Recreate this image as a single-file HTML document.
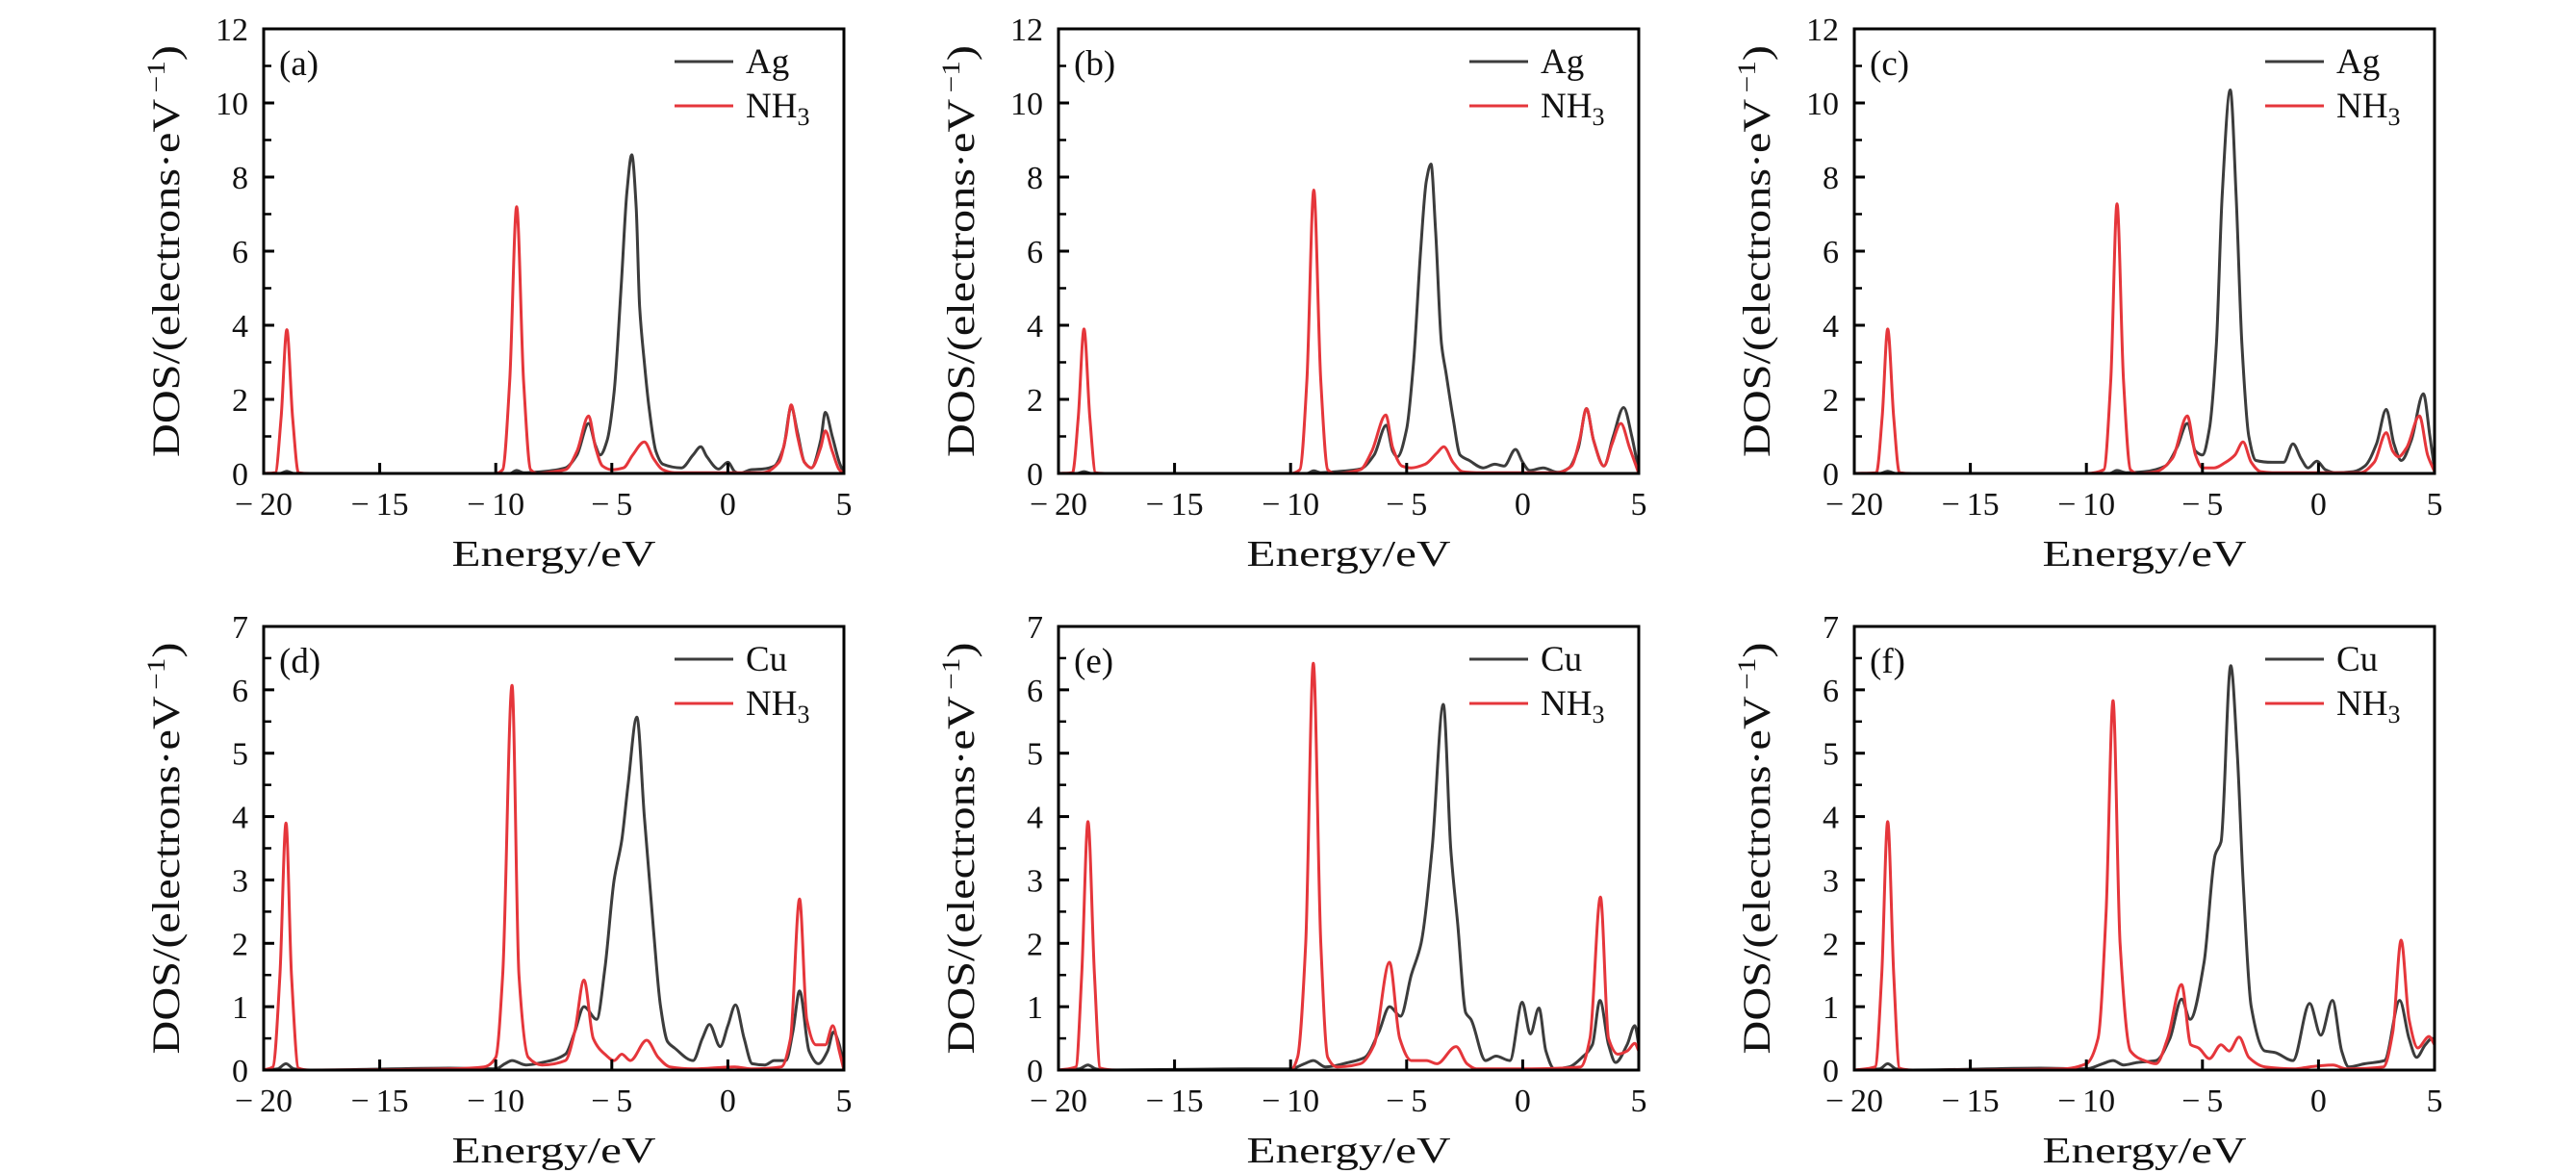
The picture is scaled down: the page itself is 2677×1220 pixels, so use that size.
<!DOCTYPE html>
<html><head><meta charset="utf-8"><style>
html,body{margin:0;padding:0;background:#fff}
svg{display:block}
text{font-family:"Liberation Serif",serif;fill:#111}
</style></head><body>
<svg id="fig" width="2677" height="1220" viewBox="0 0 2677 1220" xmlns="http://www.w3.org/2000/svg"></svg>
<script>
// ---- data: [energy, DOS] pairs ----
const panelLabels = ["(a)","(b)","(c)","(d)","(e)","(f)"];
const metalNames = ["Ag","Ag","Ag","Cu","Cu","Cu"];
const yMaxes = [12,12,12,7,7,7];
const yTicksTop = [0,2,4,6,8,10,12];
const yTicksBottom = [0,1,2,3,4,5,6,7];
const xTicks = [-20,-15,-10,-5,0,5];

const metalA = [[-20,0],[-19.3,0],[-19,0.06],[-18.7,0],[-10,0],[-9.4,0],[-9.1,0.08],[-8.8,0.02],[-8,0.05],[-7,0.15],[-6.5,0.5],[-6.0,1.35],[-5.7,0.75],[-5.5,0.5],[-5.2,0.9],[-4.9,2.2],[-4.6,5],[-4.35,7.6],[-4.14,8.6],[-3.95,7.2],[-3.8,4.5],[-3.6,3.0],[-3.4,1.8],[-3.1,0.6],[-2.8,0.25],[-2.0,0.15],[-1.5,0.5],[-1.17,0.72],[-0.9,0.45],[-0.4,0.12],[0,0.3],[0.3,0.05],[0.5,0],[1,0.1],[1.5,0.12],[2,0.2],[2.4,0.7],[2.73,1.8],[3.0,1.1],[3.3,0.3],[3.6,0.15],[4.0,0.9],[4.2,1.65],[4.5,1.0],[4.8,0.3],[5,0]];
const nh3A = [[-20,0],[-19.5,0.02],[-19.25,1.5],[-19.0,3.88],[-18.75,1.5],[-18.5,0.02],[-18,0],[-10,0],[-9.7,0.1],[-9.4,2.5],[-9.1,7.2],[-8.8,2.5],[-8.5,0.1],[-8.2,0],[-7.5,0.05],[-7,0.1],[-6.5,0.6],[-6.0,1.55],[-5.7,0.7],[-5.4,0.2],[-5,0.1],[-4.5,0.15],[-4.1,0.5],[-3.6,0.85],[-3.2,0.4],[-2.8,0.1],[-2.3,0.02],[1.5,0.02],[2.2,0.3],[2.5,1.0],[2.73,1.85],[3.0,1.0],[3.3,0.3],[3.6,0.15],[4.0,0.7],[4.2,1.15],[4.5,0.6],[4.8,0.1],[5,0]];

const metalB = [[-20,0],[-19.2,0],[-18.9,0.05],[-18.6,0],[-10,0],[-9.3,0],[-9.0,0.07],[-8.7,0.02],[-8,0.05],[-7,0.12],[-6.4,0.5],[-5.88,1.3],[-5.6,0.6],[-5.4,0.45],[-5.0,1.2],[-4.7,3.0],[-4.4,6.0],[-4.15,7.9],[-3.95,8.35],[-3.75,6.5],[-3.5,3.5],[-3.3,2.7],[-3.0,1.5],[-2.7,0.5],[-2.3,0.35],[-1.7,0.15],[-1.2,0.25],[-0.8,0.2],[-0.31,0.65],[0,0.3],[0.3,0.08],[0.88,0.15],[1.5,0.03],[2,0.15],[2.4,0.7],[2.75,1.75],[3.05,0.9],[3.5,0.2],[3.9,1.0],[4.35,1.78],[4.7,1.0],[5,0.05]];
const nh3B = [[-20,0],[-19.4,0.02],[-19.15,1.5],[-18.9,3.9],[-18.65,1.5],[-18.4,0.02],[-18,0],[-10,0],[-9.6,0.1],[-9.3,2.5],[-9.0,7.65],[-8.7,2.5],[-8.4,0.1],[-8.1,0],[-7,0.1],[-6.5,0.6],[-5.9,1.58],[-5.6,0.7],[-5.2,0.2],[-4.8,0.15],[-4.2,0.25],[-3.7,0.55],[-3.4,0.72],[-3.0,0.3],[-2.6,0.05],[-2,0.02],[1.5,0.02],[2.1,0.2],[2.45,0.9],[2.75,1.75],[3.05,0.9],[3.5,0.2],[3.85,0.8],[4.23,1.35],[4.6,0.7],[5,0]];

const metalC = [[-20,0],[-18.9,0],[-18.56,0.06],[-18.2,0],[-10,0],[-9.0,0],[-8.68,0.08],[-8.3,0.02],[-7.5,0.05],[-6.6,0.2],[-6.1,0.7],[-5.65,1.35],[-5.3,0.6],[-5.0,0.5],[-4.7,1.2],[-4.4,3.5],[-4.15,7.5],[-3.8,10.35],[-3.55,7.5],[-3.3,3.5],[-3.0,1.0],[-2.7,0.35],[-2.0,0.3],[-1.5,0.3],[-1.1,0.8],[-0.75,0.4],[-0.45,0.15],[-0.07,0.33],[0.3,0.1],[0.7,0.02],[1.5,0.05],[2.0,0.2],[2.5,0.8],[2.92,1.73],[3.25,0.8],[3.57,0.35],[4.0,0.9],[4.52,2.15],[4.8,1.0],[5,0.1]];
const nh3C = [[-20,0],[-19.05,0.02],[-18.8,1.5],[-18.56,3.9],[-18.3,1.5],[-18.05,0.02],[-17.5,0],[-10,0],[-9.25,0.1],[-8.95,2.5],[-8.68,7.28],[-8.4,2.5],[-8.1,0.1],[-7.8,0],[-7,0.05],[-6.3,0.4],[-5.65,1.55],[-5.3,0.5],[-5.0,0.15],[-4.5,0.15],[-4.0,0.3],[-3.6,0.5],[-3.25,0.85],[-2.9,0.3],[-2.5,0.05],[-2,0.02],[1.8,0.02],[2.4,0.3],[2.92,1.1],[3.2,0.6],[3.45,0.45],[3.8,0.7],[4.35,1.55],[4.7,0.5],[5,0.05]];

const metalD = [[-20,0],[-19.4,0.02],[-19.04,0.1],[-18.7,0.02],[-18,0],[-12,0.03],[-10,0.02],[-9.6,0.1],[-9.3,0.15],[-8.7,0.08],[-8,0.12],[-7,0.25],[-6.6,0.6],[-6.2,1.0],[-5.65,0.8],[-5.3,1.6],[-4.9,3.0],[-4.57,3.63],[-4.3,4.5],[-3.92,5.57],[-3.6,4.0],[-3.2,2.2],[-2.9,1.0],[-2.6,0.45],[-2.3,0.35],[-1.5,0.15],[-1.1,0.5],[-0.79,0.72],[-0.33,0.37],[0.0,0.7],[0.33,1.03],[0.7,0.5],[1.05,0.1],[1.6,0.08],[2.0,0.15],[2.5,0.15],[2.8,0.6],[3.09,1.25],[3.5,0.3],[3.9,0.1],[4.3,0.3],[4.55,0.6],[4.8,0.4],[5,0]];
const nh3D = [[-20,0],[-19.6,0.05],[-19.3,1.5],[-19.04,3.9],[-18.8,1.5],[-18.5,0.03],[-18,0],[-12,0.02],[-10.5,0.05],[-10,0.2],[-9.7,1.5],[-9.3,6.07],[-9.0,1.5],[-8.6,0.2],[-8,0.08],[-7,0.15],[-6.6,0.6],[-6.2,1.42],[-5.8,0.5],[-5.3,0.25],[-4.9,0.15],[-4.57,0.25],[-4.2,0.15],[-3.5,0.47],[-3.0,0.2],[-2.5,0.05],[-1.5,0.02],[0.3,0.05],[1,0.02],[2.3,0.05],[2.7,0.5],[3.09,2.7],[3.4,0.8],[3.8,0.4],[4.2,0.4],[4.52,0.7],[4.8,0.3],[5,0]];

const metalE = [[-20,0],[-19.1,0.02],[-18.73,0.08],[-18.4,0.02],[-18,0],[-12,0.02],[-10,0.02],[-9.4,0.1],[-9.02,0.15],[-8.5,0.05],[-7.5,0.12],[-6.8,0.2],[-6.2,0.6],[-5.74,1.0],[-5.26,0.85],[-4.8,1.5],[-4.38,2.0],[-3.9,3.5],[-3.42,5.77],[-3.1,3.5],[-2.8,2.3],[-2.45,0.9],[-2.23,0.8],[-1.6,0.15],[-1.15,0.22],[-0.55,0.15],[-0.02,1.07],[0.33,0.57],[0.7,0.98],[1.0,0.3],[1.36,0.02],[2.0,0.05],[2.56,0.2],[3.0,0.4],[3.33,1.1],[3.7,0.4],[4.0,0.12],[4.5,0.4],[4.83,0.7],[5,0.4]];
const nh3E = [[-20,0],[-19.25,0.05],[-19.0,1.5],[-18.73,3.92],[-18.45,1.5],[-18.2,0.03],[-17.5,0],[-10,0],[-9.7,0.2],[-9.35,2.0],[-9.02,6.42],[-8.7,2.0],[-8.4,0.2],[-8,0.05],[-7,0.1],[-6.4,0.4],[-5.74,1.7],[-5.3,0.5],[-4.8,0.15],[-4.14,0.15],[-3.7,0.1],[-2.87,0.37],[-2.4,0.1],[-2.0,0.02],[0,0.02],[2.5,0.05],[2.9,0.5],[3.35,2.73],[3.7,0.5],[4.1,0.25],[4.5,0.3],[4.83,0.42],[5,0.3]];

const metalF = [[-20,0],[-18.9,0.02],[-18.56,0.1],[-18.2,0.02],[-17.5,0],[-12,0.03],[-10,0.02],[-9.3,0.1],[-8.85,0.15],[-8.4,0.08],[-7.8,0.12],[-7,0.15],[-6.4,0.5],[-5.9,1.12],[-5.53,0.8],[-4.93,1.7],[-4.45,3.4],[-4.2,3.6],[-3.78,6.38],[-3.5,5.0],[-3.25,3.0],[-2.9,1.0],[-2.3,0.3],[-1.9,0.28],[-1.1,0.15],[-0.38,1.05],[0.1,0.55],[0.6,1.1],[1.0,0.3],[1.3,0.05],[2.0,0.1],[2.85,0.15],[3.5,1.1],[3.9,0.5],[4.23,0.2],[4.6,0.4],[4.9,0.5],[5,0.4]];
const nh3F = [[-20,0],[-19.1,0.05],[-18.82,1.5],[-18.56,3.92],[-18.3,1.5],[-18.05,0.03],[-17.5,0],[-11,0.02],[-10,0.1],[-9.5,0.5],[-9.15,2.5],[-8.85,5.83],[-8.55,2.0],[-8.1,0.3],[-7.5,0.15],[-7.0,0.1],[-6.5,0.5],[-5.9,1.35],[-5.5,0.4],[-5.17,0.35],[-4.7,0.18],[-4.2,0.4],[-3.85,0.3],[-3.42,0.52],[-3.0,0.2],[-2.3,0.05],[-1.0,0.02],[-0.38,0.05],[0.62,0.08],[1.2,0.02],[2.8,0.05],[3.2,0.6],[3.56,2.05],[3.9,0.8],[4.28,0.35],[4.76,0.53],[5,0.4]];

const metalSeries = [metalA,metalB,metalC,metalD,metalE,metalF];
const nh3Series = [nh3A,nh3B,nh3C,nh3D,nh3E,nh3F];

// ---- layout ----
const NS = "http://www.w3.org/2000/svg";
const svg = document.getElementById("fig");
const lefts = [274,1100,1927];
const tops = [[30,492],[651,1112]];
const W = 603;
const BLACK = "#3c3c3c", RED = "#e5363b";

function mk(tag, attrs, parent){
  const e = document.createElementNS(NS, tag);
  for (const k in attrs) e.setAttribute(k, attrs[k]);
  (parent||svg).appendChild(e);
  return e;
}
function monoPath(pts, sx, sy){
  const n = pts.length, xs = pts.map(p=>sx(p[0])), ys = pts.map(p=>sy(p[1]));
  const d = [], m = new Array(n);
  for (let i=0;i<n-1;i++) d.push((ys[i+1]-ys[i])/(xs[i+1]-xs[i]));
  m[0]=d[0]; m[n-1]=d[n-2];
  for (let i=1;i<n-1;i++){
    if (d[i-1]*d[i]<=0) m[i]=0;
    else { const h0=xs[i]-xs[i-1], h1=xs[i+1]-xs[i];
      m[i]=3*(h0+h1)/((2*h1+h0)/d[i-1]+(h1+2*h0)/d[i]); }
  }
  let s = "M"+xs[0].toFixed(1)+","+ys[0].toFixed(1);
  for (let i=0;i<n-1;i++){
    const h=(xs[i+1]-xs[i])/3;
    s += "C"+(xs[i]+h).toFixed(1)+","+(ys[i]+m[i]*h).toFixed(1)+" "+(xs[i+1]-h).toFixed(1)+","+(ys[i+1]-m[i+1]*h).toFixed(1)+" "+xs[i+1].toFixed(1)+","+ys[i+1].toFixed(1);
  }
  return s;
}

for (let p=0;p<6;p++){
  const L = lefts[p%3], T = tops[Math.floor(p/3)][0], B = tops[Math.floor(p/3)][1];
  const yMax = yMaxes[p];
  const sx = v => L + (v+20)/25*W;
  const sy = v => B - v/yMax*(B-T);
  const g = mk("g", {});
  
  

  const clipId = "clip"+p;
  const cp = mk("clipPath", {id:clipId}, g);
  mk("rect", {x:L, y:T, width:W, height:B-T}, cp);

  const cg = mk("g", {"clip-path":"url(#"+clipId+")"}, g);
  const ml = mk("path", {d:monoPath(metalSeries[p],sx,sy), fill:"none", stroke:BLACK, "stroke-width":3, "stroke-linejoin":"round"}, cg);
  
  
  const rl = mk("path", {d:monoPath(nh3Series[p],sx,sy), fill:"none", stroke:RED, "stroke-width":3, "stroke-linejoin":"round"}, cg);
  
  

  const fr = mk("rect", {x:L, y:T, width:W, height:B-T, fill:"none", stroke:"#000", "stroke-width":3}, g);
  
  

  xTicks.forEach(v=>{
    const x = sx(v);
    if (v>-20 && v<5) mk("line", {x1:x, x2:x, y1:B, y2:B-11, stroke:"#000", "stroke-width":3}, g);
    const t = mk("text", {x:x, y:B+43, "font-size":34, "text-anchor":"middle"}, g);
    t.textContent = v<0 ? "\u2212\u2009"+Math.abs(v) : String(v);
    
    
  });
  const yt = p<3 ? yTicksTop : yTicksBottom;
  const step = yt[1]-yt[0];
  yt.forEach(v=>{
    const y = sy(v);
    if (v>0 && v<yMax) mk("line", {x1:L, x2:L+11, y1:y, y2:y, stroke:"#000", "stroke-width":3}, g);
    if (v<yMax) { const ym = sy(v+step/2); mk("line", {x1:L, x2:L+8, y1:ym, y2:ym, stroke:"#000", "stroke-width":2.5}, g); }
    const t = mk("text", {x:L-16, y:y+12, "font-size":34, "text-anchor":"end"}, g);
    t.textContent = String(v);
    
    
  });

  const xl = mk("text", {x:L+W/2, y:B+96, "font-size":38, "text-anchor":"middle", textLength:212, lengthAdjust:"spacingAndGlyphs"}, g);
  xl.textContent = "Energy/eV";
  
  
  const cy = (T+B)/2;
  const yl = mk("text", {x:0, y:0, "font-size":40, "text-anchor":"middle", textLength:428, lengthAdjust:"spacingAndGlyphs", transform:"translate("+(L-88)+","+cy+") rotate(-90)"}, g);
  yl.innerHTML = 'DOS/(electrons\u00b7eV<tspan dy="-15" font-size="26">\u2009\u22121</tspan><tspan dy="15">)</tspan>';
  
  

  const pl = mk("text", {x:L+16, y:T+48, "font-size":37}, g);
  pl.textContent = panelLabels[p];
  
  

  const r1 = T+34, r2 = T+80;
  const lg = mk("g", {}, g);
  
  
  mk("line", {x1:L+427, x2:L+488, y1:r1, y2:r1, stroke:BLACK, "stroke-width":3}, lg);
  const lt1 = mk("text", {x:L+501, y:r1+12, "font-size":37}, lg);
  lt1.textContent = metalNames[p];
  
  
  mk("line", {x1:L+427, x2:L+488, y1:r2, y2:r2, stroke:RED, "stroke-width":3}, lg);
  const lt2 = mk("text", {x:L+501, y:r2+12, "font-size":37}, lg);
  lt2.innerHTML = 'NH<tspan dy="8" font-size="26">3</tspan>';
  
  
}
</script>
</body></html>
